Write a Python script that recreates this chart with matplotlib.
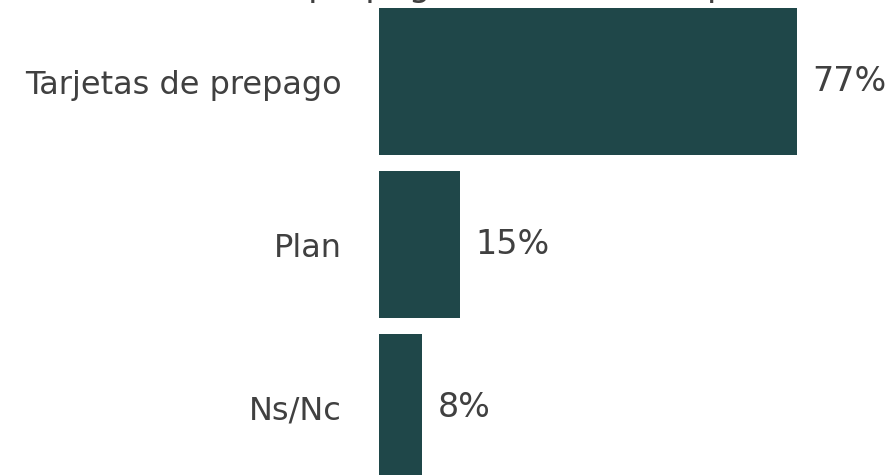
import matplotlib.pyplot as plt

# Data
categories = ['Tarjetas de prepago', 'Plan', 'Ns/Nc']
values = [77, 15, 8]
title = 'Uso de prepago o contrato de plan'

bar_color = '#1f4749'
text_color = '#404040'

plt.rcParams['font.family'] = ['DejaVu Sans']

fig = plt.figure(figsize=(8.91, 4.75), dpi=100)
ax = fig.add_axes([379 / 891, 0, 1 - 379 / 891, 1])

y = range(len(categories))
bars = ax.barh(y, values, height=0.9, color=bar_color)

ax.set_xlim(0, 512 / 5.43)
ax.set_ylim(2.414, -0.5)

ax.set_yticks(list(y))
ax.set_yticklabels(categories, fontsize=23, color=text_color)
ax.tick_params(axis='y', length=0, pad=27)
ax.set_xticks([])
for s in ax.spines.values():
    s.set_visible(False)

ax.bar_label(bars, labels=[f'{v}%' for v in values], padding=11,
             fontsize=24, color=text_color)

# title sits mostly above the visible area, only descenders show
fig.text(0.20, 1.009, title, fontsize=25, color=text_color,
         ha='left', va='baseline')

fig.savefig('out.png', dpi=100)
